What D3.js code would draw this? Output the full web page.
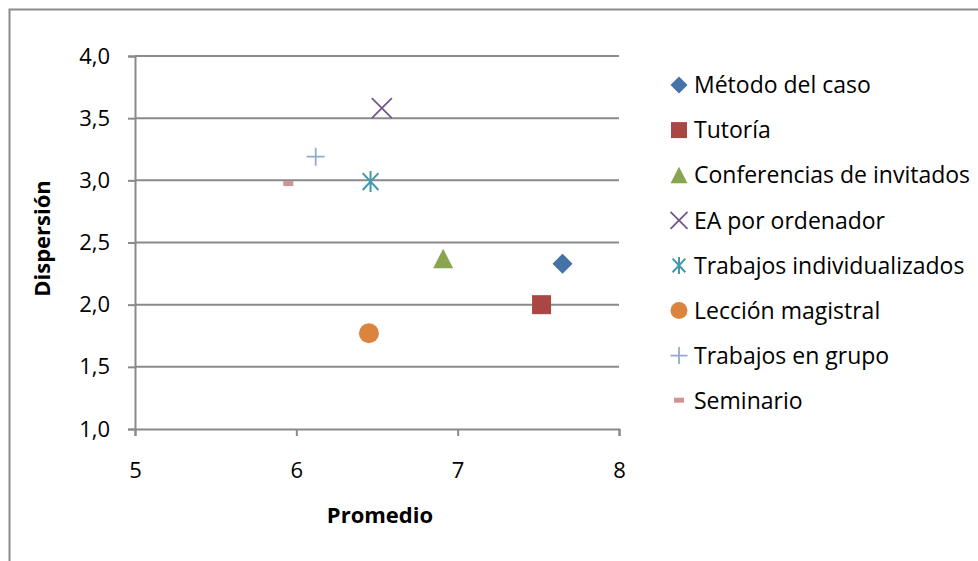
<!DOCTYPE html>
<html>
<head>
<meta charset="utf-8">
<script src="https://cdn.jsdelivr.net/npm/d3@7"></script>
<style>
  html, body { margin: 0; padding: 0; background: #fff; }
  svg { display: block; font-family: "Open Sans", Lato, sans-serif; }
</style>
</head>
<body>
<svg id="chart" width="978" height="561"></svg>
<script>
// Teaching methods: mean score (Promedio) vs. spread (Dispersión)
const methods = ["Método del caso", "Tutoría", "Conferencias de invitados", "EA por ordenador",
                 "Trabajos individualizados", "Lección magistral", "Trabajos en grupo", "Seminario"];
const promedio   = [7.65, 7.52, 6.91, 6.53, 6.46, 6.45, 6.12, 5.95];
const dispersion = [2.33, 2.00, 2.37, 3.58, 2.99, 1.77, 3.19, 2.97];
const markerKinds = ["diamond", "square", "triangle", "x", "asterisk", "circle", "plus", "dash"];
const colors = ["#4572A7", "#AA4643", "#89A54E", "#71588F", "#4198AF", "#DB843D", "#93A9CF", "#D19392"];
const xTicks = [5, 6, 7, 8];
const yTicks = [1.0, 1.5, 2.0, 2.5, 3.0, 3.5, 4.0];

const svg = d3.select("#chart");
const plot = { left: 135, right: 619, top: 56, bottom: 429 };

const x = d3.scaleLinear().domain([5, 8]).range([plot.left, plot.right]);
const y = d3.scaleLinear().domain([1, 4]).range([plot.bottom, plot.top]);

// outer chart frame
svg.append("rect")
  .attr("x", 9.5).attr("y", 9.5).attr("width", 990).attr("height", 600)
  .attr("fill", "none").attr("stroke", "#8c8c8c").attr("stroke-width", 2);

const gridColor = "#8a8a8a";

// horizontal gridlines
svg.append("g").selectAll("line").data(yTicks.filter(d => d > 1)).join("line")
  .attr("x1", plot.left).attr("x2", plot.right)
  .attr("y1", d => y(d)).attr("y2", d => y(d))
  .attr("stroke", gridColor).attr("stroke-width", 2);

// y axis
const yAxis = svg.append("g").attr("transform", `translate(${plot.left},0)`)
  .call(d3.axisLeft(y).tickValues(yTicks).tickSize(7).tickPadding(18)
    .tickFormat(d => d3.format(".1f")(d).replace(".", ",")));
// x axis
const xAxis = svg.append("g").attr("transform", `translate(0,${plot.bottom})`)
  .call(d3.axisBottom(x).tickValues(xTicks).tickSize(7).tickPadding(26).tickFormat(d3.format("d")));

[yAxis, xAxis].forEach(g => {
  g.select(".domain").attr("stroke", gridColor).attr("stroke-width", 2);
  g.selectAll(".tick line").attr("stroke", gridColor).attr("stroke-width", 2);
  g.selectAll(".tick text").attr("fill", "#000").style("font-size", "22px")
    .style("font-family", "'Open Sans', Lato, sans-serif");
});

// axis titles
svg.append("text").attr("x", 380).attr("y", 523).attr("text-anchor", "middle")
  .style("font-size", "22px").style("font-weight", "bold").text("Promedio");
svg.append("text").attr("transform", `translate(50,${y(2.5) - 4}) rotate(-90)`)
  .attr("text-anchor", "middle").style("font-size", "22px").style("font-weight", "bold").text("Dispersión");

// marker painter
function drawMarker(g, kind, color, s) {
  const h = s / 2;
  switch (kind) {
    case "diamond":
      g.append("path").attr("d", `M0,${-h}L${h},0L0,${h}L${-h},0Z`).attr("fill", color); break;
    case "square":
      g.append("rect").attr("x", -h + 0.5).attr("y", -h + 0.5).attr("width", s - 1).attr("height", s - 1).attr("fill", color); break;
    case "triangle":
      g.append("path").attr("d", `M0,${-h}L${h},${h * 0.95}L${-h},${h * 0.95}Z`).attr("fill", color); break;
    case "circle":
      g.append("circle").attr("r", h).attr("fill", color); break;
    case "x":
      g.append("path").attr("d", `M${-h},${-h}L${h},${h}M${h},${-h}L${-h},${h}`)
        .attr("stroke", color).attr("stroke-width", 1.8); break;
    case "asterisk":
      g.append("path").attr("d", `M${-h * 0.75},${-h * 0.8}L${h * 0.75},${h * 0.8}M${h * 0.75},${-h * 0.8}L${-h * 0.75},${h * 0.8}M0,${-h}L0,${h}`)
        .attr("stroke", color).attr("stroke-width", 2); break;
    case "plus":
      g.append("path").attr("d", `M${-h},0L${h},0M0,${-h}L0,${h}`)
        .attr("stroke", color).attr("stroke-width", 1.8); break;
    case "dash":
      g.append("rect").attr("x", -5).attr("y", -3).attr("width", 10).attr("height", 5).attr("fill", color); break;
  }
}
const sizes = { diamond: 20, square: 20, triangle: 20, circle: 20, x: 20, asterisk: 21, plus: 18, dash: 10 };

// data points
methods.forEach((m, i) => {
  const g = svg.append("g").attr("transform", `translate(${x(promedio[i])},${y(dispersion[i])})`);
  drawMarker(g, markerKinds[i], colors[i], sizes[markerKinds[i]]);
});

// legend
const legend = svg.append("g");
methods.forEach((m, i) => {
  const cy = 85 + i * 45.1;
  const g = legend.append("g").attr("transform", `translate(679,${cy})`);
  drawMarker(g, markerKinds[i], colors[i], markerKinds[i] === "dash" ? 10 : 17);
  legend.append("text").attr("x", 694).attr("y", cy).attr("dy", "0.36em")
    .style("font-size", "23px").attr("fill", "#000").text(m);
});
</script>
</body>
</html>
